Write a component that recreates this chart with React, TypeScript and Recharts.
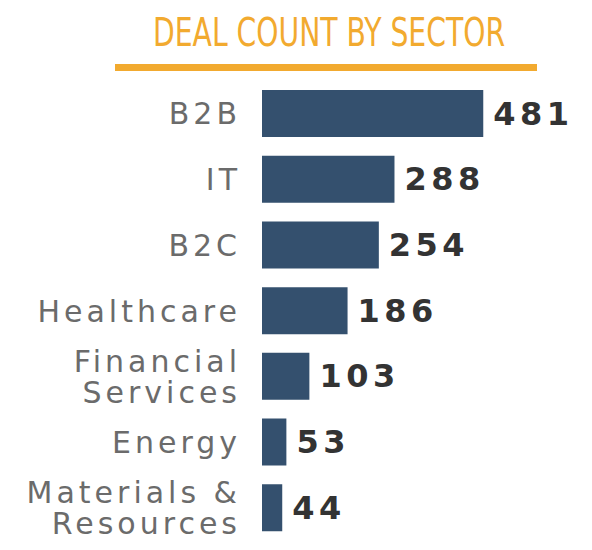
import { BarChart, Bar, XAxis, YAxis, LabelList } from 'recharts'

const SECTORS = ['B2B', 'IT', 'B2C', 'Healthcare', 'Financial\nServices', 'Energy', 'Materials &\nResources']
const DEAL_COUNTS = [481, 288, 254, 186, 103, 53, 44]

const data = SECTORS.map((sector, i) => ({ sector, count: DEAL_COUNTS[i] }))

const BAR_COLOR = '#34506e'
const TITLE_COLOR = '#f2aa2f'

function SectorTick(props: any) {
  const { x, y, payload } = props
  const lines = String(payload.value).split('\n')
  const lineHeight = 31
  const startDy = -((lines.length - 1) * lineHeight) / 2
  return (
    <text
      x={x}
      y={y}
      textAnchor="end"
      fill="#6b6b6b"
      fontFamily="'DejaVu Sans', sans-serif"
      fontSize={30}
      letterSpacing={4}
    >
      {lines.map((line, i) => (
        <tspan key={i} x={x} dy={i === 0 ? startDy : lineHeight} dominantBaseline="central">
          {line}
        </tspan>
      ))}
    </text>
  )
}

function CountLabel(props: any) {
  const { x, y, width, height, value } = props
  return (
    <text
      x={x + width + 10}
      y={y + height / 2}
      dominantBaseline="central"
      fill="#333333"
      fontFamily="'DejaVu Sans', sans-serif"
      fontWeight="bold"
      fontSize={32}
      letterSpacing={4.5}
    >
      {value}
    </text>
  )
}

export default function App() {
  return (
    <div style={{ position: 'relative', width: 592, height: 550, background: '#fff' }}>
      <style>{`body { margin: 0; }`}</style>
      <svg width={592} height={80} style={{ position: 'absolute', left: 0, top: 0 }}>
        <text
          x={153}
          y={46}
          fill={TITLE_COLOR}
          fontFamily="'Liberation Sans Narrow', 'DejaVu Sans Condensed', sans-serif"
          fontSize={39}
          textLength={352}
          lengthAdjust="spacingAndGlyphs"
        >
          DEAL COUNT BY SECTOR
        </text>
        <rect x={115} y={64} width={422} height={7} fill={TITLE_COLOR} />
      </svg>
      <BarChart
        width={592}
        height={550}
        data={data}
        layout="vertical"
        margin={{ top: 81, right: 100, bottom: 9, left: 0 }}
        barCategoryGap={18}
      >
        <XAxis type="number" domain={[0, 500]} hide />
        <YAxis
          type="category"
          dataKey="sector"
          width={262}
          axisLine={false}
          tickLine={false}
          tickSize={0}
          tickMargin={21}
          interval={0}
          tick={<SectorTick />}
        />
        <Bar dataKey="count" fill={BAR_COLOR} barSize={47} isAnimationActive={false}>
          <LabelList dataKey="count" content={<CountLabel />} />
        </Bar>
      </BarChart>
    </div>
  )
}
